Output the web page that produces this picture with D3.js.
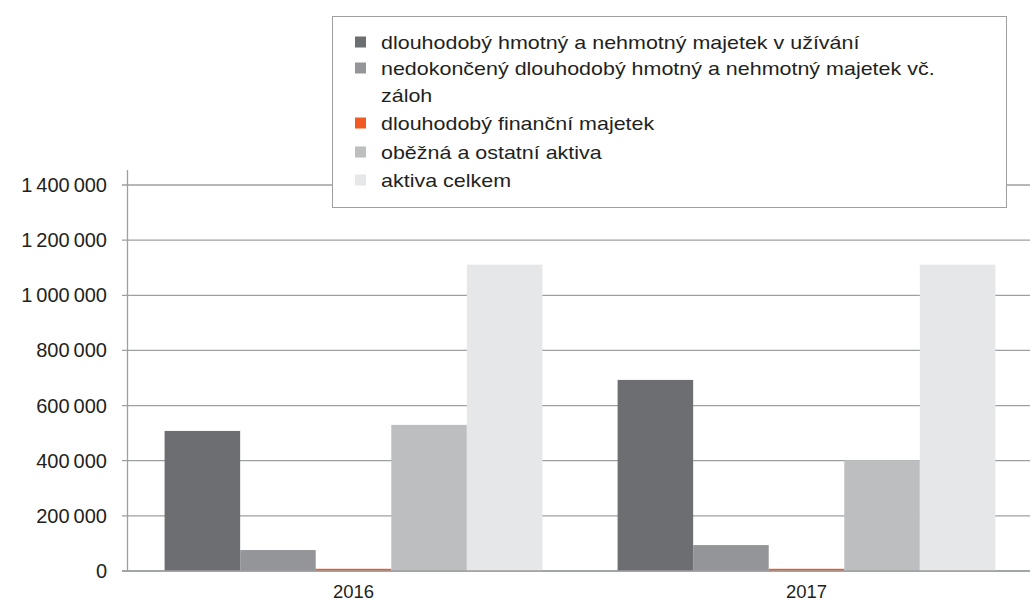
<!DOCTYPE html>
<html>
<head>
<meta charset="utf-8">
<script src="https://cdn.jsdelivr.net/npm/d3@7"></script>
<style>
  body { margin: 0; background: #fff; }
  svg { display: block; font-family: "Liberation Sans", Arial, sans-serif; }
  .tick-label { fill: #231f20; font-size: 20px; }
  .year-label { fill: #231f20; font-size: 18.5px; }
  .legend-text { fill: #231f20; font-size: 19px; }
</style>
</head>
<body>
<svg id="chart" width="1030" height="601"></svg>
<script>
const years = ["2016", "2017"];
const seriesNames = [
  "dlouhodobý hmotný a nehmotný majetek v užívání",
  "nedokončený dlouhodobý hmotný a nehmotný majetek vč.|záloh",
  "dlouhodobý finanční majetek",
  "oběžná a ostatní aktiva",
  "aktiva celkem"
];
const seriesColors = ["#6d6e71", "#939598", "#f15a22", "#bcbec0", "#e6e7e8"];
// values per series, [2016, 2017]
const values = [
  [508000, 693000],
  [76000, 94000],
  [8000, 8000],
  [530000, 402000],
  [1111000, 1111000]
];
const yTicks = [0, 200000, 400000, 600000, 800000, 1000000, 1200000, 1400000];

const svg = d3.select("#chart");

const x = d3.scaleBand()
  .domain(years)
  .range([127, 1033])
  .paddingInner(0.166)
  .paddingOuter(0.083);

const xs = d3.scaleBand()
  .domain(d3.range(seriesNames.length))
  .range([0, x.bandwidth()]);

const y = d3.scaleLinear()
  .domain([0, 1400000])
  .range([571, 185]);

const fmt = d3.formatLocale({ thousands: "\u2009", grouping: [3], decimal: ",", currency: ["", ""] }).format(",d");

// gridlines
svg.append("g")
  .selectAll("line")
  .data(yTicks)
  .join("line")
  .attr("x1", 122)
  .attr("x2", 1030)
  .attr("y1", (d) => y(d))
  .attr("y2", (d) => y(d))
  .attr("stroke", "#9d9fa2")
  .attr("stroke-width", 1.3);

// bars
const bars = [];
values.forEach((vals, s) => {
  vals.forEach((v, i) => bars.push({ s, year: years[i], v }));
});
svg.append("g")
  .selectAll("rect")
  .data(bars)
  .join("rect")
  .attr("x", (d) => x(d.year) + xs(d.s))
  .attr("width", xs.bandwidth())
  .attr("y", (d) => y(d.v))
  .attr("height", (d) => y(0) - y(d.v))
  .attr("fill", (d) => seriesColors[d.s]);

// baseline + axis line
svg.append("line")
  .attr("x1", 122).attr("x2", 1030)
  .attr("y1", y(0)).attr("y2", y(0))
  .attr("stroke", "#9d9fa2").attr("stroke-width", 1.3);
svg.append("line")
  .attr("x1", 127.5).attr("x2", 127.5)
  .attr("y1", 170).attr("y2", y(0))
  .attr("stroke", "#9d9fa2").attr("stroke-width", 1.3);

// y tick labels
svg.append("g")
  .selectAll("text")
  .data(yTicks)
  .join("text")
  .attr("class", "tick-label")
  .attr("x", 107)
  .attr("y", (d) => y(d))
  .attr("dy", "0.35em")
  .attr("text-anchor", "end")
  .text((d) => fmt(d));

// x labels
svg.append("g")
  .selectAll("text")
  .data(years)
  .join("text")
  .attr("class", "year-label")
  .attr("x", (d) => x(d) + x.bandwidth() / 2)
  .attr("y", 598)
  .attr("text-anchor", "middle")
  .text((d) => d);

// legend
const legend = svg.append("g");
legend.append("rect")
  .attr("x", 332.5).attr("y", 16.5)
  .attr("width", 674).attr("height", 191)
  .attr("fill", "#fff")
  .attr("stroke", "#9d9fa2")
  .attr("stroke-width", 1);

const rowY = [42, 68, 123, 152, 180];
seriesNames.forEach((name, i) => {
  legend.append("rect")
    .attr("x", 355).attr("y", rowY[i] - 5.5)
    .attr("width", 11).attr("height", 11)
    .attr("fill", seriesColors[i]);
  name.split("|").forEach((part, j) => {
    legend.append("text")
      .attr("class", "legend-text")
      .attr("transform", `translate(381,${rowY[i] + j * 27}) scale(1.13,1)`)
      .attr("dy", "0.35em")
      .text(part);
  });
});
</script>
</body>
</html>
